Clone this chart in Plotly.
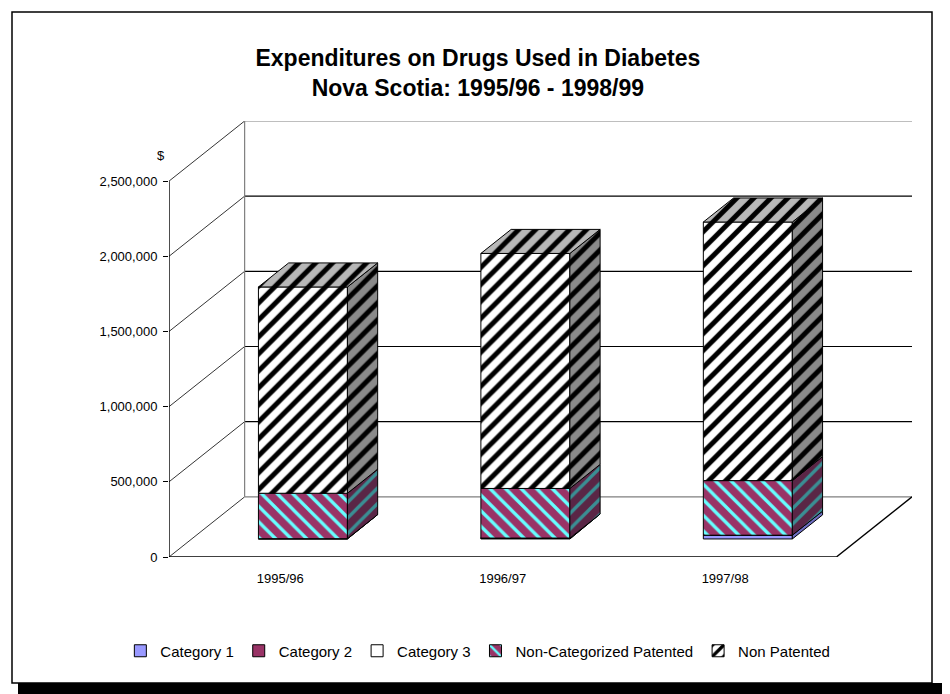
import plotly.graph_objects as go

# ---- data -------------------------------------------------------------
years = ["1995/96", "1996/97", "1997/98"]
category_1 = [2000, 6000, 25000]
category_2 = [0, 0, 0]
category_3 = [0, 0, 0]
non_categorized_patented = [302000, 330000, 363000]
non_patented = [1372000, 1563000, 1720000]
y_ticks = [0, 500000, 1000000, 1500000, 2000000, 2500000]

series_names = ["Category 1", "Category 2", "Category 3",
                "Non-Categorized Patented", "Non Patented"]
series_values = [category_1, category_2, category_3,
                 non_categorized_patented, non_patented]

# ---- styling ----------------------------------------------------------
FONT = "Liberation Sans, Arial, sans-serif"
W, H = 950, 694
ML, MR, MT, MB = 169, 38, 121, 137

# oblique depth of the floor, in axis units
DEPTH_X = 0.34
DEPTH_Y = 400000
# bars sit between 30% and 70% of the floor depth
BAR_FRONT = 0.3
BAR_DEPTH = 0.4
BAR_W = 0.40

face_styles = {
    "Category 1": dict(front="#9999FF", side="#6d6dc0", shape=""),
    "Category 2": dict(front="#993366", side="#6a2347", shape=""),
    "Category 3": dict(front="#FFFFFF", side="#c8c8c8", shape=""),
    "Non-Categorized Patented": dict(front="#993366", side="#5a2646",
                                     fg="#66FFFF", side_fg="#3a8f94",
                                     shape="\\", size=11, solidity=0.3),
    "Non Patented": dict(front="#FFFFFF", side="#8a8a8a", fg="#000000",
                         side_fg="#000000", shape="/", size=12, solidity=0.42),
}
TOP_FILL = "#b8b8b8"

fig = go.Figure()

x_left = -0.5
x_right = len(years) - 0.5
y_top = y_ticks[-1]

shapes = []


def wall_line(x0, y0, x1, y1, color="#000000", width=1.0):
    shapes.append(dict(type="line", xref="x", yref="y", x0=x0, y0=y0,
                       x1=x1, y1=y1, layer="below",
                       line=dict(color=color, width=width)))


# side wall diagonals from the value axis back to the rear wall
for v in y_ticks:
    wall_line(x_left, v, x_left + DEPTH_X, v + DEPTH_Y, "#000000", 0.8)

# rear wall gridlines
for v in y_ticks:
    col = "#7f7f7f" if v in (0, y_top) else "#000000"
    wall_line(x_left + DEPTH_X, v + DEPTH_Y, x_right + DEPTH_X, v + DEPTH_Y, col, 1.2)
wall_line(x_left + DEPTH_X, DEPTH_Y, x_left + DEPTH_X, y_top + DEPTH_Y, "#7f7f7f", 1.2)

# floor front edge and value axis
wall_line(x_left, 0, x_right, 0, "#000000", 1.4)
wall_line(x_right, 0, x_right + DEPTH_X, DEPTH_Y, "#000000", 1.4)
wall_line(x_left, 0, x_left, y_top, "#000000", 1.4)

# ---- bars: front faces --------------------------------------------------
bar_x = [i + BAR_FRONT * DEPTH_X for i in range(len(years))]
base_off = BAR_FRONT * DEPTH_Y
cum = [0.0] * len(years)
bottoms = {}
for name, vals in zip(series_names, series_values):
    st = face_styles[name]
    bases = [base_off + c for c in cum]
    bottoms[name] = bases
    marker = dict(color=st["front"], line=dict(color="#000000", width=1))
    if st["shape"]:
        marker["pattern"] = dict(shape=st["shape"], fgcolor=st["fg"],
                                 bgcolor=st["front"], size=st["size"],
                                 solidity=st["solidity"], fillmode="replace")
    fig.add_trace(go.Bar(x=bar_x, y=vals, base=bases, width=BAR_W,
                         name=name, marker=marker, hoverinfo="skip"))
    cum = [c + v for c, v in zip(cum, vals)]

# ---- bars: side faces ---------------------------------------------------
bdx = BAR_DEPTH * DEPTH_X
bdy = BAR_DEPTH * DEPTH_Y
for name, vals in zip(series_names, series_values):
    st = face_styles[name]
    xs, ys = [], []
    for i, v in enumerate(vals):
        if v <= 0:
            continue
        x1 = bar_x[i] + BAR_W / 2
        b = bottoms[name][i]
        t = b + v
        xs += [x1, x1 + bdx, x1 + bdx, x1, x1, None]
        ys += [b, b + bdy, t + bdy, t, b, None]
    if not xs:
        continue
    kw = {}
    if st["shape"]:
        kw["fillpattern"] = dict(shape="/", fgcolor=st["side_fg"],
                                 bgcolor=st["side"], size=st["size"],
                                 solidity=st["solidity"], fillmode="replace")
    fig.add_trace(go.Scatter(x=xs, y=ys, mode="lines", fill="toself",
                             fillcolor=st["side"],
                             line=dict(color="#000000", width=1),
                             hoverinfo="skip", showlegend=False, **kw))

# ---- bars: top faces ----------------------------------------------------
totals = cum
xs, ys = [], []
for i, tot in enumerate(totals):
    x0 = bar_x[i] - BAR_W / 2
    x1 = bar_x[i] + BAR_W / 2
    t = base_off + tot
    xs += [x0, x1, x1 + bdx, x0 + bdx, x0, None]
    ys += [t, t, t + bdy, t + bdy, t, None]
fig.add_trace(go.Scatter(x=xs, y=ys, mode="lines", fill="toself",
                         fillcolor=TOP_FILL,
                         fillpattern=dict(shape="/", fgcolor="#000000",
                                          bgcolor=TOP_FILL, size=12,
                                          solidity=0.42, fillmode="replace"),
                         line=dict(color="#000000", width=1),
                         hoverinfo="skip", showlegend=False))


# ---- frame, title, legend ---------------------------------------------
def px_x(p):
    return (p - ML) / (W - ML - MR)


def px_y(p):
    return (H - MB - p) / (H - MT - MB)


shapes += [
    dict(type="rect", xref="paper", yref="paper",
         x0=px_x(12), x1=px_x(932), y0=px_y(683), y1=px_y(12),
         line=dict(color="#000000", width=1.5), fillcolor="rgba(0,0,0,0)",
         layer="below"),
    dict(type="rect", xref="paper", yref="paper",
         x0=px_x(18), x1=px_x(942), y0=px_y(694), y1=px_y(683),
         line=dict(width=0), fillcolor="#000000"),
]

fig.update_layout(
    width=W, height=H,
    margin=dict(l=ML, r=MR, t=MT, b=MB),
    paper_bgcolor="#FFFFFF", plot_bgcolor="#FFFFFF",
    barmode="overlay",
    font=dict(family=FONT, size=13, color="#000000"),
    title=dict(text="<b>Expenditures on Drugs Used in Diabetes<br>"
                    "Nova Scotia: 1995/96 - 1998/99</b>",
               font=dict(family=FONT, size=23, color="#000000"),
               x=0.503, xref="container", xanchor="center",
               y=1 - 66 / H, yref="container", yanchor="middle"),
    xaxis=dict(range=[x_left, x_right + DEPTH_X], tickvals=list(range(len(years))),
               ticktext=years, showgrid=False, zeroline=False, showline=False,
               ticks="", ticklabelstandoff=12, fixedrange=True,
               tickfont=dict(family=FONT, size=13, color="#000000")),
    yaxis=dict(range=[0, y_top + DEPTH_Y], tickvals=y_ticks, tickformat=",d",
               showgrid=False, zeroline=False, showline=False,
               ticks="outside", ticklen=5, tickcolor="#000000", tickwidth=1,
               ticklabelstandoff=3, fixedrange=True,
               tickfont=dict(family=FONT, size=13, color="#000000")),
    legend=dict(orientation="h", xref="container", yref="container",
                x=0.503, xanchor="center", y=1 - 651 / H, yanchor="middle",
                font=dict(family=FONT, size=15, color="#000000"),
                itemwidth=30, traceorder="normal", bgcolor="rgba(0,0,0,0)"),
    annotations=[dict(text="$", xref="paper", yref="paper",
                      x=px_x(155), y=px_y(146), showarrow=False,
                      font=dict(family=FONT, size=13, color="#000000"))],
    shapes=shapes,
)

fig.write_html("out.html")
